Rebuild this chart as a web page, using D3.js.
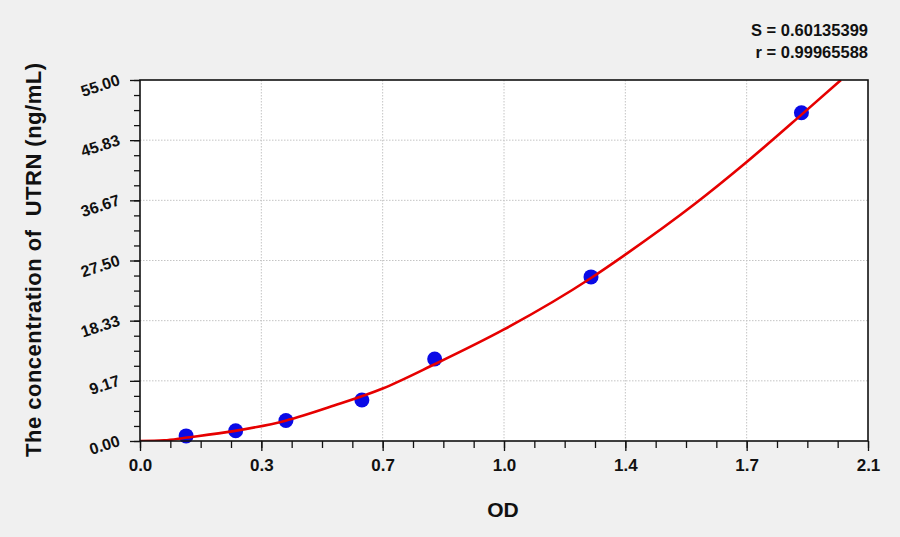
<!DOCTYPE html>
<html>
<head>
<meta charset="utf-8">
<script src="https://cdn.jsdelivr.net/npm/d3@7"></script>
<style>
  body { margin: 0; background: #f0f0f0; }
  svg text { font-family: "Liberation Sans", Arial, sans-serif; font-weight: bold; fill: #111; }
</style>
</head>
<body>
<div id="plot"></div>
<script>
// standard points (OD, concentration)
const odValues = [0.133, 0.276, 0.421, 0.640, 0.850, 1.301, 1.908];
const concValues = [0.78, 1.56, 3.12, 6.25, 12.5, 25, 50];

// fitted curve
const curveOD = [0, 0.07, 0.13, 0.27, 0.42, 0.56, 0.70, 0.85, 1.05, 1.30, 1.40, 1.60, 1.75, 1.91, 2.022];
const curveConc = [0, 0.1, 0.5, 1.5, 3.1, 5.4, 8.0, 11.7, 17.0, 24.8, 28.4, 36.1, 42.5, 49.8, 55.0];

const xTickValues = [0, 0.35, 0.7, 1.05, 1.4, 1.75, 2.1];
const xTickLabels = ["0.0", "0.3", "0.7", "1.0", "1.4", "1.7", "2.1"];
const yTickValues = [0, 55/6, 110/6, 27.5, 220/6, 275/6, 55];
const yTickLabels = ["0.00", "9.17", "18.33", "27.50", "36.67", "45.83", "55.00"];

const statLines = ["S = 0.60135399", "r = 0.99965588"];

const w = 900;
const h = 537;
const margin = {top: 80, right: 32, bottom: 96, left: 140};
const innerWidth = w - margin.left - margin.right;
const innerHeight = h - margin.top - margin.bottom;

const svg = d3.select("div#plot")
      .append("svg")
      .attr("width", w)
      .attr("height", h);

svg.append("rect")
      .attr("width", w)
      .attr("height", h)
      .attr("fill", "#f0f0f0");

const xScale = d3.scaleLinear().domain([0, 2.1]).range([0, innerWidth]);
const yScale = d3.scaleLinear().domain([0, 55]).range([innerHeight, 0]);

const g = svg.append("g")
      .attr("transform", `translate(${margin.left}, ${margin.top})`);

g.append("rect")
      .attr("width", innerWidth)
      .attr("height", innerHeight)
      .attr("fill", "white");

// grid
g.append("g")
      .selectAll("line")
      .data(xTickValues.slice(1, -1))
      .join("line")
      .attr("x1", d => xScale(d)).attr("x2", d => xScale(d))
      .attr("y1", 0).attr("y2", innerHeight)
      .attr("stroke", "#c4c4c4").attr("stroke-dasharray", "1.5,1.5");
g.append("g")
      .selectAll("line")
      .data(yTickValues.slice(1, -1))
      .join("line")
      .attr("y1", d => yScale(d)).attr("y2", d => yScale(d))
      .attr("x1", 0).attr("x2", innerWidth)
      .attr("stroke", "#c4c4c4").attr("stroke-dasharray", "1.5,1.5");

// minor ticks
const xMinor = d3.range(0, 25).map(i => i * 2.1 / 24);
const yMinor = d3.range(0, 25).map(i => i * 55 / 24);

g.append("g")
      .attr("transform", `translate(0, ${innerHeight})`)
      .call(d3.axisBottom(xScale).tickValues(xMinor).tickFormat("").tickSize(7).tickSizeOuter(0))
      .call(a => a.select(".domain").remove());
g.append("g")
      .call(d3.axisLeft(yScale).tickValues(yMinor).tickFormat("").tickSize(6).tickSizeOuter(0))
      .call(a => a.select(".domain").remove());

// major ticks
const xAxis = g.append("g")
      .attr("transform", `translate(0, ${innerHeight})`)
      .call(d3.axisBottom(xScale).tickValues(xTickValues)
        .tickFormat((d, i) => xTickLabels[i]).tickSize(10).tickSizeOuter(0));
xAxis.select(".domain").remove();
xAxis.selectAll("text")
      .attr("font-size", 17)
      .attr("dy", "0")
      .attr("y", 30);

const yAxis = g.append("g")
      .call(d3.axisLeft(yScale).tickValues(yTickValues)
        .tickFormat((d, i) => yTickLabels[i]).tickSize(10).tickSizeOuter(0));
yAxis.select(".domain").remove();
yAxis.selectAll("text")
      .attr("font-size", 16)
      .attr("x", null).attr("dy", null)
      .attr("text-anchor", "end")
      .attr("transform", "translate(-19, 4) rotate(-18)");

g.selectAll(".tick line").attr("stroke", "#111").attr("stroke-width", 1.3);

// points
g.append("g")
      .selectAll("circle")
      .data(odValues)
      .join("circle")
      .attr("cx", d => xScale(d))
      .attr("cy", (d, i) => yScale(concValues[i]))
      .attr("r", 7.5)
      .attr("fill", "#0a0ae6");

// fitted curve
g.append("clipPath").attr("id", "clip")
      .append("rect").attr("width", innerWidth).attr("height", innerHeight);

const line = d3.line()
      .x(d => xScale(d))
      .y((d, i) => yScale(curveConc[i]))
      .curve(d3.curveMonotoneX);

g.append("path")
      .datum(curveOD)
      .attr("d", line)
      .attr("fill", "none")
      .attr("stroke", "#e60000")
      .attr("stroke-width", 2.6)
      .attr("clip-path", "url(#clip)");

// frame
g.append("rect")
      .attr("width", innerWidth)
      .attr("height", innerHeight)
      .attr("fill", "none")
      .attr("stroke", "#111")
      .attr("stroke-width", 1.6);

// axis titles
svg.append("text")
      .attr("x", 503)
      .attr("y", 517)
      .attr("text-anchor", "middle")
      .attr("font-size", 21)
      .text("OD");

svg.append("text")
      .attr("transform", `translate(41, 260) rotate(-90)`)
      .attr("text-anchor", "middle")
      .attr("font-size", 22)
      .attr("textLength", 394)
      .attr("lengthAdjust", "spacing")
      .style("white-space", "pre")
      .text("The concentration of  UTRN (ng/mL)");

// stats
svg.append("g")
      .selectAll("text")
      .data(statLines)
      .join("text")
      .attr("x", margin.left + innerWidth)
      .attr("y", (d, i) => 36 + i * 22)
      .attr("text-anchor", "end")
      .attr("font-size", 16.5)
      .text(d => d);
</script>
</body>
</html>
